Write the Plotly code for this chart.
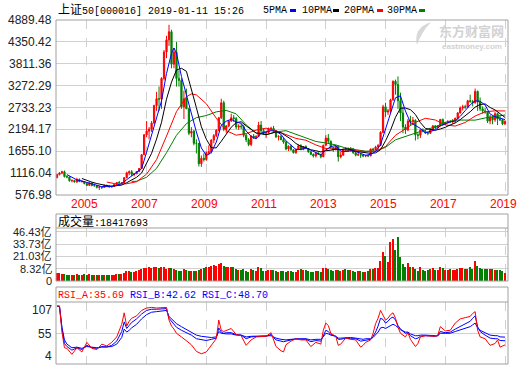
import plotly.graph_objects as go

W, H = 520, 365
def px(x): return x / W
def py(y): return 1 - y / H

# ---------------- data (monthly, 2004-01 .. 2019-01) ----------------
months = list(range(181))
opens = [1000,1080,1120,1150,1030,1020,930,935,900,960,905,910,
 860,815,875,805,805,765,775,765,810,800,780,790,
 835,885,880,885,1005,1125,1150,1085,1100,1155,1230,1570,
 2060,2150,2200,2350,2780,2950,2940,3450,4100,4400,4600,3800,
 4100,3450,3400,2750,2950,2700,2100,2150,1850,1850,1350,1480,
 1450,1620,1640,1930,2040,2170,2480,2850,2200,2280,2400,2480,
 2460,2250,2270,2260,2050,1940,1820,2030,1990,2020,2300,2160,
 2100,2120,2210,2220,2160,2010,2020,1940,1880,1710,1780,1690,
 1620,1700,1790,1700,1770,1720,1640,1580,1540,1610,1580,1520,
 1800,1980,1900,1750,1690,1780,1520,1560,1700,1680,1670,1720,
 1620,1560,1570,1560,1540,1545,1540,1710,1690,1760,1800,2120,
 2750,2620,2650,2920,3380,3300,2900,2600,2250,2180,2400,2380,
 2420,2060,2050,2180,2150,2110,2100,2180,2280,2230,2280,2440,
 2320,2360,2390,2380,2400,2470,2600,2720,2750,2740,2900,2880,
 2850,3130,2870,2700,2650,2620,2400,2500,2430,2580,2450,2430,
 2330]
highs = [1090,1140,1175,1180,1065,1030,965,950,1000,985,945,920,
 880,890,880,860,820,800,790,835,835,805,800,840,
 890,925,895,1010,1150,1180,1190,1110,1165,1240,1580,2080,
 2400,2250,2400,2800,3120,3250,3480,4150,4500,4772,4650,4200,
 4350,3650,3450,3150,3200,2720,2250,2180,1950,1860,1550,1600,
 1650,1800,1950,2080,2200,2500,2950,2900,2300,2420,2580,2550,
 2500,2320,2330,2300,2080,1980,2050,2080,2050,2380,2400,2220,
 2150,2240,2260,2280,2170,2050,2060,1980,1900,1800,1820,1700,
 1720,1820,1830,1780,1800,1730,1660,1600,1630,1630,1590,1820,
 2050,2080,1920,1760,1800,1790,1640,1720,1760,1750,1760,1730,
 1630,1620,1600,1580,1570,1570,1720,1740,1790,1830,2150,2800,
 2850,2700,2950,3400,3420,3500,3100,2750,2320,2450,2530,2500,
 2440,2100,2200,2220,2180,2140,2200,2300,2300,2300,2450,2460,
 2380,2420,2420,2450,2480,2620,2760,2800,2800,2920,3050,2920,
 3200,3150,2980,2760,2720,2640,2550,2530,2620,2600,2530,2450,
 2420]
lows = [995,1060,1090,1010,990,905,890,880,875,900,885,840,
 800,805,800,790,740,700,725,760,790,760,755,780,
 830,860,850,880,990,1060,1040,1035,1090,1140,1220,1560,
 2000,1950,2130,2330,2650,2650,2700,3400,3950,4250,3700,3700,
 3250,3250,2700,2450,2700,2050,2000,1800,1600,1280,1270,1400,
 1420,1560,1600,1850,2000,2150,2450,2150,2100,2250,2380,2380,
 2200,2180,2200,2000,1880,1780,1780,1960,1960,2000,2100,2060,
 1980,2100,2160,2140,1980,1920,1930,1840,1680,1660,1670,1600,
 1590,1690,1680,1680,1710,1620,1560,1500,1500,1560,1480,1510,
 1790,1850,1720,1640,1680,1400,1480,1540,1640,1640,1650,1590,
 1530,1540,1490,1510,1510,1520,1535,1650,1680,1700,1780,2100,
 2500,2550,2600,2900,3050,2700,2400,2100,2080,2150,2300,2320,
 1920,1950,1980,2120,2080,2050,2080,2150,2200,2220,2270,2280,
 2300,2340,2350,2330,2350,2450,2580,2660,2700,2730,2850,2760,
 2830,2650,2650,2580,2580,2350,2320,2320,2380,2300,2400,2300,
 2300]
closes = [1080,1120,1150,1030,1020,930,935,900,960,905,910,860,
 815,875,805,805,765,775,765,810,800,780,790,835,
 885,880,885,1005,1125,1150,1085,1100,1155,1230,1570,2060,
 2150,2200,2350,2780,2950,2940,3450,4100,4400,4600,3800,4100,
 3450,3400,2750,2950,2700,2100,2150,1850,1850,1350,1480,1450,
 1620,1640,1930,2040,2170,2480,2850,2200,2280,2400,2480,2460,
 2250,2270,2260,2050,1940,1820,2030,1990,2020,2300,2160,2100,
 2120,2210,2220,2160,2010,2020,1940,1880,1710,1780,1690,1620,
 1700,1790,1700,1770,1720,1640,1580,1540,1610,1580,1520,1800,
 1980,1900,1750,1690,1780,1520,1560,1700,1680,1670,1720,1620,
 1560,1570,1560,1540,1545,1540,1710,1690,1760,1800,2120,2750,
 2620,2650,2920,3380,3300,2900,2600,2250,2180,2400,2380,2420,
 2060,2050,2180,2150,2110,2100,2180,2280,2230,2280,2440,2320,
 2360,2390,2380,2400,2470,2600,2720,2750,2740,2900,2880,2850,
 3130,2870,2700,2650,2620,2400,2500,2430,2580,2450,2430,2330,
 2390]
# volume (亿), read as bar heights
volume = [8,8,7,7,6,6,6,6,7,6,6,7,
 6,7,6,6,6,6,6,6,6,6,6,6,
 7,7,7,8,10,10,9,9,10,11,12,13,
 13,14,13,15,14,13,14,14,12,13,13,12,
 11,10,10,12,11,10,10,10,10,11,12,13,
 15,15,16,17,16,18,19,16,15,14,15,15,
 12,11,11,12,10,9,12,11,10,14,13,10,
 10,11,11,11,10,9,10,10,9,10,10,9,
 9,11,12,11,11,10,9,9,10,10,9,13,
 13,12,11,10,11,11,10,11,12,11,11,10,
 9,10,10,9,9,10,12,12,13,13,21,30,
 26,20,40,44,32,46,25,18,14,19,15,14,
 12,10,14,11,10,11,12,13,11,11,14,13,
 11,11,12,11,11,12,13,13,12,12,14,12,
 21,16,13,12,12,12,12,12,11,11,11,10,
 8.6]

ma5_months = list(range(4, 47, 2)) + [47] + list(range(48, 181, 2))
ma5 = [1080,1013,949,922,890,853,813,783,783,789,818,855,956,
 1050,1123,1228,1633,2066,2486,2896,3570,4070,
 4200,
 4070,3500,3050,2530,2130,1736,1550,1624,
 1880,2294,2396,2442,2374,2344,2154,2020,1960,2100,
 2140,2162,2144,2070,1912,1800,1700,1700,1736,1682,
 1618,1566,1686,1768,1798,1656,1648,1666,1650,1606,
 1555,1579,1649,1816,2210,2612,2974,3020,2646,2362,
 2288,2218,2110,2144,2180,2282,2326,2378,2400,2514,
 2656,2798,2900,2886,2794,2574,2506,2478,2436]
ma10_months = list(range(10, 181, 2))
ma10 = [984,936,894,860,827,808,794,800,821,880,943,1014,
 1119,1363,1605,1955,2369,2939,3358,3658,3700,3625,3200,2730,2258,1950,1742,1738,1901,2066,2247,
 2360,2382,2281,2190,2105,2094,2065,2096,2132,2111,
 2033,1954,1846,1778,1743,1691,1668,1638,1668,1680,
 1712,1692,1716,1697,1651,1632,1607,1604,1615,1692,
 1912,2172,2494,2716,2720,2680,2561,2361,2218,2199,
 2172,2205,2244,2305,2352,2433,2523,2628,2743,2807,
 2822,2734,2673,2581,2488]
ma20_months = [20,24,28,32,36,40,44,48,52,54,56,60,64,68,72,76,80] + list(range(84, 181, 4))
ma20 = [896,847,854,904,1092,1449,2029,2632,2997,3070,3044,2825,2469,2162,2051,2091,2176,
 2224,2161,2064,1971,1927,1811,1723,1702,1677,1666,
 1650,1656,1772,2049,2206,2367,2467,2426,2303,2276,
 2364,2524,2628,2651,2648]
ma30_months = [30,32,36,40,44,48,52,56,60,64,68,72,76,80,84] + list(range(88, 181, 4))
ma30 = [912,915,1015,1235,1619,2048,2336,2484,2535,2626,2661,2576,2304,2101,2062,
 2132,2162,2074,1986,1896,1859,1812,1733,1691,1656,
 1660,1752,1938,2021,2113,2183,2255,2366,2424,2430,
 2422,2476,2515,2549]

rsi_months = [0,1,2,3,4,6,8,10,12,14,
 16,18,20,22,24,25,26,27,28,29,
 30,32,34,36,38,40,42,44,45,46,
 47,48,50,52,54,56,58,60,62,64,
 65,66,67,68,70,72,74,76,78,80,
 82,84,86,87,88,90,91,92,94,96,
 98,100,102,104,106,107,108,109,110,112,
 113,114,116,118,120,122,123,124,126,127,
 128,129,130,131,132,133,134,135,136,137,
 138,140,141,142,144,145,146,148,150,152,
 153,154,156,158,160,162,164,166,167,168,
 169,170,172,174,176,177,178,180]
rsi_a = [100,100,57,31,30,20,31,24,40,30,
 28,37,34,40,49,60,70,89,67,75,
 80,84,93,97,98,97,98,98,77,67,
 62,55,49,42,36,25,21,24,35,46,
 77,60,58,60,63,53,51,35,44,49,
 50,50,56,44,33,26,24,36,42,46,
 44,44,33,40,37,60,72,68,55,50,
 35,37,47,45,44,32,35,40,44,55,
 71,80,93,85,77,80,86,89,80,65,
 55,49,56,45,33,38,49,51,50,50,
 52,66,59,60,72,79,81,83,88,91,
 60,49,46,35,38,44,32,35.69]
rsi_b = [100,100,62,38,33,27,31,28,35,31,
 30,33,32,35,42,50,58,74,63,68,
 73,79,87,93,95,95,96,96,80,75,
 70,65,60,56,52,46,44,43,45,47,
 64,57,55,56,56,53,52,46,49,50,
 50,50,53,48,44,42,41,42,44,46,
 45,45,41,43,42,52,60,58,53,50,
 45,45,47,46,46,42,43,44,45,50,
 57,67,80,78,72,75,80,82,77,68,
 62,55,56,51,46,47,50,51,50,50,
 51,58,56,57,62,66,70,75,80,84,
 66,58,52,47,46,46,43,42.62]
rsi_c = [100,100,65,44,37,31,32,30,33,32,
 31,32,32,33,37,42,48,62,57,60,
 64,70,79,86,90,91,92,93,83,79,
 75,71,66,61,57,52,50,49,48,49,
 58,55,54,54,54,52,52,49,50,50,
 50,50,51,49,47,45,44,44,45,46,
 46,46,44,45,45,49,55,54,52,50,
 47,47,48,48,47,45,45,46,46,48,
 52,57,64,65,63,65,68,70,68,64,
 61,57,57,54,51,51,52,52,51,51,
 51,55,55,55,58,61,63,66,69,72,
 64,60,56,52,51,51,49,48.70]

price_ticks = [576.98, 1116.04, 1655.10, 2194.17, 2733.23, 3272.29, 3811.36, 4350.42, 4889.48]
vol_tick_labels = ["8.32亿", "21.03亿", "33.73亿", "46.43亿"]
vol_tick_pos = [12.7, 25.4, 38.1, 50.8]
rsi_tick_labels = ["107", "55", "4"]
year_pos = [12, 36, 60, 84, 108, 132, 156, 180]
year_labels = ["2005", "2007", "2009", "2011", "2013", "2015", "2017", "2019"]

# ---------------- style ----------------
RED, GREEN, BLUE, BLACK = "#ff0000", "#008000", "#0000ff", "#000000"
GRID = "#d0d0d0"
BORDER = "#a0a0a0"
MONO = "Liberation Mono, Noto Sans CJK SC, monospace"
SANS = "Liberation Sans, Noto Sans CJK SC, Arial, sans-serif"
XL, XR = 56, 508
VOL_MAX = 54.9

fig = go.Figure()

fig.add_trace(go.Candlestick(
    x=months, open=opens, high=highs, low=lows, close=closes,
    increasing=dict(line=dict(color=RED, width=1), fillcolor=RED),
    decreasing=dict(line=dict(color=GREEN, width=1), fillcolor=GREEN),
    whiskerwidth=0, showlegend=False, hoverinfo="skip", xaxis="x", yaxis="y"))

for mx, my, col in [(ma30_months, ma30, GREEN), (ma20_months, ma20, RED),
                    (ma10_months, ma10, BLACK), (ma5_months, ma5, BLUE)]:
    n = min(len(mx), len(my))
    fig.add_trace(go.Scatter(x=mx[:n], y=my[:n], mode="lines", line=dict(color=col, width=1),
                             showlegend=False, hoverinfo="skip", xaxis="x", yaxis="y"))

vol_colors = [RED if c >= o else GREEN for o, c in zip(opens, closes)]
fig.add_trace(go.Bar(x=months, y=volume, marker=dict(color=vol_colors, line=dict(width=0)),
                     width=0.6, showlegend=False, hoverinfo="skip", xaxis="x2", yaxis="y2"))

for ry, col in [(rsi_c, BLUE), (rsi_b, BLUE), (rsi_a, RED)]:
    n = min(len(rsi_months), len(ry))
    fig.add_trace(go.Scatter(x=rsi_months[:n], y=ry[:n], mode="lines", line=dict(color=col, width=1),
                             showlegend=False, hoverinfo="skip", xaxis="x3", yaxis="y3"))

xcommon = dict(range=[-0.4, 181.2], tickvals=year_pos, showticklabels=False, showgrid=True,
               gridcolor=GRID, griddash="dash", gridwidth=1, zeroline=False, showline=False,
               ticks="", fixedrange=True)
fig.update_layout(
    width=W, height=H, margin=dict(l=0, r=0, t=0, b=0),
    paper_bgcolor="white", plot_bgcolor="white", showlegend=False, bargap=0,
    xaxis=dict(domain=[px(XL), px(XR)], anchor="y", rangeslider=dict(visible=False), **xcommon),
    yaxis=dict(domain=[py(195), py(20)], range=[576.98, 4889.48], tickvals=price_ticks,
               showticklabels=False, showgrid=True, gridcolor=GRID, zeroline=False, ticks=""),
    xaxis2=dict(domain=[px(XL), px(XR)], anchor="y2", **xcommon),
    yaxis2=dict(domain=[py(281), py(228)], range=[0, VOL_MAX], tickvals=vol_tick_pos,
                showticklabels=False, showgrid=True, gridcolor=GRID, zeroline=False, ticks=""),
    xaxis3=dict(domain=[px(XL), px(XR)], anchor="y3", **xcommon),
    yaxis3=dict(domain=[py(364), py(302)], range=[4, 107], tickvals=[55],
                showticklabels=False, showgrid=True, gridcolor=GRID, zeroline=False, ticks=""),
)

shapes = []
def rect(x0, y0, x1, y1):
    shapes.append(dict(type="rect", xref="paper", yref="paper", x0=px(x0), x1=px(x1),
                       y0=py(y1), y1=py(y0), line=dict(color=BORDER, width=1), fillcolor="rgba(0,0,0,0)"))
def hline(x0, x1, y, col=BORDER):
    shapes.append(dict(type="line", xref="paper", yref="paper", x0=px(x0), x1=px(x1),
                       y0=py(y), y1=py(y), line=dict(color=col, width=1)))
rect(XL, 20, XR, 195)
rect(XL, 214, XR, 281)
hline(XL, XR, 228)
rect(XL, 287, XR, 364)
hline(XL, XR, 302)
# legend colour chips
for x0, col in [(290, BLUE), (333, BLACK), (377, RED), (419, GREEN)]:
    shapes.append(dict(type="rect", xref="paper", yref="paper", x0=px(x0), x1=px(x0 + 6),
                       y0=py(12), y1=py(9), line=dict(width=0), fillcolor=col))
# watermark swoosh
pts = [(431, 22), (413, 28), (417, 45), (421, 33), (431, 22)]
path = "M {:.4f},{:.4f} Q {:.4f},{:.4f} {:.4f},{:.4f} Q {:.4f},{:.4f} {:.4f},{:.4f} Z".format(
    px(pts[0][0]), py(pts[0][1]), px(pts[1][0]), py(pts[1][1]), px(pts[2][0]), py(pts[2][1]),
    px(pts[3][0]), py(pts[3][1]), px(pts[4][0]), py(pts[4][1]))
shapes.append(dict(type="path", xref="paper", yref="paper", path=path,
                   fillcolor="#d8d8d8", line=dict(width=0), layer="below"))

ann = []
def text(x, y, s, size=12, color="#000000", xanchor="left", family=MONO, **kw):
    ann.append(dict(x=px(x), y=py(y), xref="paper", yref="paper", text=s, showarrow=False,
                    xanchor=xanchor, yanchor="middle", font=dict(size=size, color=color, family=family),
                    borderpad=0, **kw))

text(57, 10, '<span style="font-size:12px">上证</span>50[000016] 2019-01-11 15:26', size=10)
for x0, s in [(262, "5PMA"), (301, "10PMA"), (343, "20PMA"), (386, "30PMA")]:
    text(x0, 10, s, size=10)

for v in price_ticks:
    y = 195 - (v - 576.98) / (4889.48 - 576.98) * 175
    text(53, y, f"{v:.2f}", size=12, xanchor="right", family=SANS, color="#222222")
for p, lab in zip(year_pos, year_labels):
    x = XL + (p + 0.4) / 181.6 * (XR - XL)
    text(x - 2, 204, lab, size=12, xanchor="center", family=SANS, color=RED)

text(57, 222, '<span style="font-size:12px">成交量</span>:18417693', size=10)
for v, lab in zip(vol_tick_pos, vol_tick_labels):
    y = 281 - v / VOL_MAX * 53
    text(53, y, lab, size=11, xanchor="right", family=SANS, color="#222222")
text(53, 281, "0", size=11, xanchor="right", family=SANS, color="#222222")

text(57, 295, '<span style="color:#ff0000">RSI_A:35.69</span> '
              '<span style="color:#0000ff">RSI_B:42.62</span> '
              '<span style="color:#0000ff">RSI_C:48.70</span>', size=10)
for lab, y in zip(rsi_tick_labels, [310, 334, 356]):
    text(53, y, lab, size=12, xanchor="right", family=SANS, color="#222222")

# watermark
text(471, 30, "<b>东方财富网</b>", size=13, xanchor="center", family="Noto Sans CJK SC", color="#d2d2d2")
text(472, 46, "<b>eastmoney.com</b>", size=8, xanchor="center", family=SANS, color="#d2d2d2")

fig.update_layout(shapes=shapes, annotations=ann)
fig.write_html("out.html", config={"displayModeBar": False},
               post_script="document.body.style.margin='0';")
